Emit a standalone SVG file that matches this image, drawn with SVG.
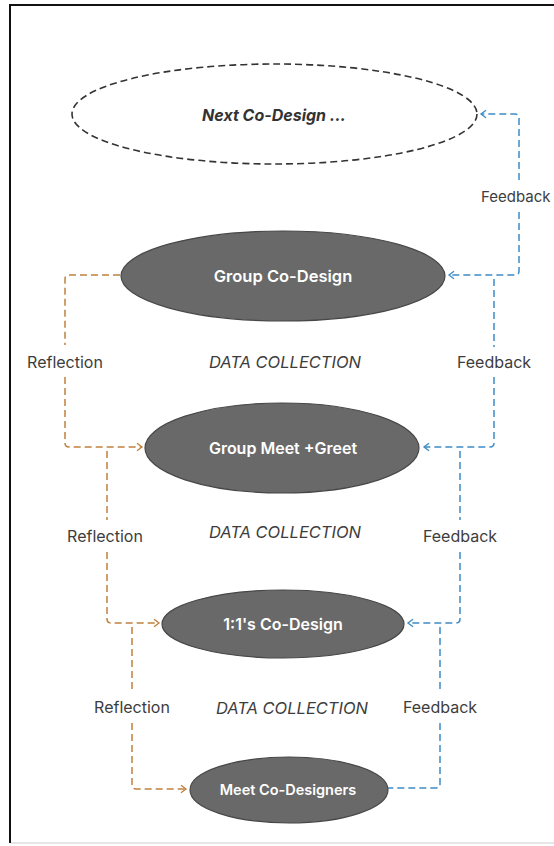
<svg xmlns="http://www.w3.org/2000/svg" width="554" height="846" viewBox="0 0 554 846">
<style>
.bg{fill:#fff}
.node{fill:#696969;stroke:#474747;stroke-width:1.2}
.ntxt{font-family:Inter,"Liberation Sans",sans-serif;font-weight:600;fill:#fff;text-anchor:middle;font-size:16px}
.lbl{font-family:Inter,"Liberation Sans",sans-serif;fill:#3d3d3d;font-size:16px;text-anchor:middle}
.dc{font-style:italic;font-size:16.5px}
.or{fill:none;stroke:#c0803e;stroke-width:1.5;stroke-dasharray:7 4}
.bl{fill:none;stroke:#3e8bc6;stroke-width:1.5;stroke-dasharray:7 4}
</style>
<defs>
<marker id="ao" markerWidth="10" markerHeight="10" refX="0" refY="0" viewBox="-8 -6 10 12" markerUnits="userSpaceOnUse" orient="auto">
<path d="M-6,-4.5 L0,0 L-6,4.5" fill="none" stroke="#c0803e" stroke-width="1.6"/>
</marker>
<marker id="ab" markerWidth="10" markerHeight="10" refX="0" refY="0" viewBox="-8 -6 10 12" markerUnits="userSpaceOnUse" orient="auto">
<path d="M-6,-4.5 L0,0 L-6,4.5" fill="none" stroke="#3e8bc6" stroke-width="1.6"/>
</marker>
</defs>
<rect class="bg" x="0" y="0" width="554" height="846"/>
<path d="M10,843 V5 H554" fill="none" stroke="#111" stroke-width="2"/>
<path d="M11,843 H554" fill="none" stroke="#ccc" stroke-width="1"/>

<g id="connectors">
<path class="or" d="M120,275 H69 Q65,275 65,279 V345"/>
<path class="or" d="M65,377 V443 Q65,447 69,447 H142" marker-end="url(#ao)"/>
<path class="or" d="M107,451 V520"/>
<path class="or" d="M107,552 V619 Q107,623 111,623 H159" marker-end="url(#ao)"/>
<path class="or" d="M132,627 V690"/>
<path class="or" d="M132,723 V785 Q132,789 136,789 H186" marker-end="url(#ao)"/>
<path class="bl" d="M519,180 V118 Q519,114 515,114 H481" marker-end="url(#ab)"/>
<path class="bl" d="M519,212 V271 Q519,275 515,275 H449" marker-end="url(#ab)"/>
<path class="bl" d="M494,279 V347"/>
<path class="bl" d="M494,377 V443 Q494,447 490,447 H424" marker-end="url(#ab)"/>
<path class="bl" d="M460,451 V520"/>
<path class="bl" d="M460,552 V619 Q460,623 456,623 H408" marker-end="url(#ab)"/>
<path class="bl" d="M440,627 V692"/>
<path class="bl" d="M440,723 V784 Q440,788 436,788 H388"/>
</g>

<g id="labels">
<text class="lbl" x="481" y="202" style="text-anchor:start;font-size:15px">Feedback</text>
<text class="lbl" x="65" y="368">Reflection</text>
<text class="lbl dc" x="285" y="368">DATA COLLECTION</text>
<text class="lbl" x="494" y="368">Feedback</text>
<text class="lbl" x="105" y="542">Reflection</text>
<text class="lbl dc" x="285" y="538">DATA COLLECTION</text>
<text class="lbl" x="460" y="542">Feedback</text>
<text class="lbl" x="132" y="713">Reflection</text>
<text class="lbl dc" x="292" y="714">DATA COLLECTION</text>
<text class="lbl" x="440" y="713">Feedback</text>
</g>

<g id="next-co-design">
<ellipse cx="274.5" cy="114" rx="202.5" ry="50" fill="none" stroke="#333" stroke-width="1.6" stroke-dasharray="7 4"/>
<text x="274" y="121" font-family="Inter,'Liberation Sans',sans-serif" font-weight="700" font-style="italic" font-size="16" fill="#333" text-anchor="middle">Next Co-Design ...</text>
</g>
<g id="group-co-design">
<ellipse class="node" cx="283" cy="276" rx="162" ry="45"/>
<text class="ntxt" x="283" y="282" style="font-size:16.5px">Group Co-Design</text>
</g>
<g id="group-meet-greet">
<ellipse class="node" cx="282" cy="448" rx="137" ry="45"/>
<text class="ntxt" x="283" y="454">Group Meet +Greet</text>
</g>
<g id="one-to-one-co-design">
<ellipse class="node" cx="283" cy="624" rx="121" ry="34"/>
<text class="ntxt" x="283" y="630">1:1's Co-Design</text>
</g>
<g id="meet-co-designers">
<ellipse class="node" cx="289" cy="790" rx="99" ry="33"/>
<text class="ntxt" x="288" y="795" style="font-size:14.5px">Meet Co-Designers</text>
</g>
</svg>
